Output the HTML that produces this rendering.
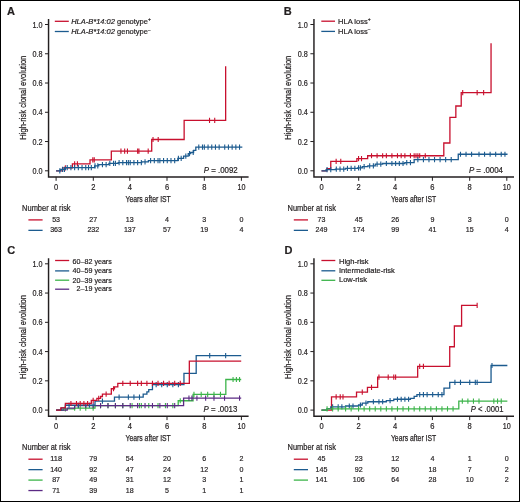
<!DOCTYPE html>
<html><head><meta charset="utf-8"><style>
html,body{margin:0;padding:0;background:#fff;}
body{width:520px;height:502px;overflow:hidden;}
svg{display:block;will-change:transform;font-family:"Liberation Sans",sans-serif;}
text{fill:#231f20;stroke:#231f20;stroke-width:0.2px;}
</style></head><body>
<svg width="520" height="502" viewBox="0 0 520 502">
<rect x="0" y="0" width="520" height="502" fill="#fff"/>
<rect x="0.5" y="0.5" width="519" height="501" fill="none" stroke="#000" stroke-width="1"/>
<g transform="translate(0 0)">
<path d="M48.55 19V176.9H248.6" fill="none" stroke="#231f20" stroke-width="1.45"/>
<path d="M45 170.8H48.55M45 141.54H48.55M45 112.28H48.55M45 83.02H48.55M45 53.76H48.55M45 24.5H48.55M56.1 176.9V180.8M93.3 176.9V180.8M129.8 176.9V180.8M167 176.9V180.8M204.3 176.9V180.8M241.4 176.9V180.8" fill="none" stroke="#231f20" stroke-width="1"/>
<text x="42.5" y="173.8" font-size="8.4" text-anchor="end" textLength="10.1" lengthAdjust="spacingAndGlyphs">0.0</text>
<text x="42.5" y="144.54" font-size="8.4" text-anchor="end" textLength="10.1" lengthAdjust="spacingAndGlyphs">0.2</text>
<text x="42.5" y="115.28" font-size="8.4" text-anchor="end" textLength="10.1" lengthAdjust="spacingAndGlyphs">0.4</text>
<text x="42.5" y="86.02" font-size="8.4" text-anchor="end" textLength="10.1" lengthAdjust="spacingAndGlyphs">0.6</text>
<text x="42.5" y="56.76" font-size="8.4" text-anchor="end" textLength="10.1" lengthAdjust="spacingAndGlyphs">0.8</text>
<text x="42.5" y="27.5" font-size="8.4" text-anchor="end" textLength="10.1" lengthAdjust="spacingAndGlyphs">1.0</text>
<text x="56.1" y="189.7" font-size="8.4" text-anchor="middle" textLength="4.2" lengthAdjust="spacingAndGlyphs">0</text>
<text x="93.3" y="189.7" font-size="8.4" text-anchor="middle" textLength="4.2" lengthAdjust="spacingAndGlyphs">2</text>
<text x="129.8" y="189.7" font-size="8.4" text-anchor="middle" textLength="4.2" lengthAdjust="spacingAndGlyphs">4</text>
<text x="167" y="189.7" font-size="8.4" text-anchor="middle" textLength="4.2" lengthAdjust="spacingAndGlyphs">6</text>
<text x="204.3" y="189.7" font-size="8.4" text-anchor="middle" textLength="4.2" lengthAdjust="spacingAndGlyphs">8</text>
<text x="241.4" y="189.7" font-size="8.4" text-anchor="middle" textLength="8" lengthAdjust="spacingAndGlyphs">10</text>
<text transform="translate(25.9 97.7) rotate(-90)" font-size="9.5" style="stroke-width:0.25px" text-anchor="middle" textLength="84" lengthAdjust="spacingAndGlyphs">High-risk clonal evolution</text>
<text x="148.15" y="201.9" font-size="9.6" text-anchor="middle" textLength="45.3" lengthAdjust="spacingAndGlyphs" style="stroke-width:0.25px">Years after IST</text>
<path d="M54.8 21.3H68.8" stroke="#c8102e" stroke-width="1.3"/>
<text x="71.2" y="24.2" font-size="7.5"><tspan font-style="italic">HLA-B*14:02</tspan> genotype<tspan font-size="5" dy="-2.9">+</tspan></text>
<path d="M54.8 31.5H68.8" stroke="#1c5b8f" stroke-width="1.3"/>
<text x="71.2" y="34.4" font-size="7.5"><tspan font-style="italic">HLA-B*14:02</tspan> genotype<tspan font-size="5" dy="-2.9">−</tspan></text>
<path d="M56.1 170.8H62.59V167.87H72.41V163.78H90.01V159.97H111.32V151.2H151.71V139.49H184.14V120.47H225.65V66.2H225.65" fill="none" stroke="#c8102e" stroke-width="1.3" stroke-linejoin="miter" stroke-linecap="butt"/>
<path d="M65.37 165.27v5.2M74.63 161.18v5.2M77.41 161.18v5.2M92.79 157.37v5.2M94.27 157.37v5.2M120.96 148.6v5.2M124.66 148.6v5.2M127.44 148.6v5.2M137.63 148.6v5.2M138.93 148.6v5.2M148.19 148.6v5.2M153.01 136.89v5.2M158.2 136.89v5.2M209.53 117.87v5.2M214.72 117.87v5.2" fill="none" stroke="#c8102e" stroke-width="1.1"/>
<path d="M56.1 170.8H60.73V169.34H65.37V167.58H94.64V165.97H98.72V164.66H108.91V163.34H118.18V162.61H141.71V161.88H148.38V160.56H177.84V158.36H183.59V156.17H188.22V153.68H190.63V152.51H193.59V150.32H195.82V147.1H242.33" fill="none" stroke="#1c5b8f" stroke-width="1.3" stroke-linejoin="miter" stroke-linecap="butt"/>
<path d="M59.81 168.2v5.2M62.59 166.74v5.2M64.44 166.74v5.2M67.22 164.98v5.2M70.92 164.98v5.2M74.63 164.98v5.2M78.34 164.98v5.2M82.04 164.98v5.2M85.75 164.98v5.2M88.53 164.98v5.2M91.31 164.98v5.2M95.01 163.37v5.2M97.79 163.37v5.2M102.43 162.06v5.2M106.13 162.06v5.2M109.84 160.74v5.2M113.54 160.74v5.2M115.4 160.74v5.2M119.1 160.01v5.2M122.81 160.01v5.2M126.51 160.01v5.2M128.37 160.01v5.2M130.22 160.01v5.2M133.93 160.01v5.2M137.63 160.01v5.2M141.34 160.01v5.2M145.04 159.28v5.2M150.6 157.96v5.2M154.31 157.96v5.2M158.02 157.96v5.2M159.87 157.96v5.2M163.57 157.96v5.2M167.28 157.96v5.2M170.99 157.96v5.2M174.69 157.96v5.2M178.4 155.76v5.2M181.18 155.76v5.2M185.81 153.57v5.2M189.52 151.08v5.2M193.22 149.91v5.2M198.78 144.5v5.2M202.49 144.5v5.2M204.34 144.5v5.2M208.05 144.5v5.2M211.75 144.5v5.2M215.46 144.5v5.2M219.16 144.5v5.2M224.72 144.5v5.2M228.43 144.5v5.2M232.14 144.5v5.2M235.84 144.5v5.2M239.55 144.5v5.2" fill="none" stroke="#1c5b8f" stroke-width="1.1"/>
<text x="203.7" y="172.6" font-size="8.5" textLength="34" lengthAdjust="spacingAndGlyphs"><tspan font-style="italic">P</tspan> = .0092</text>
<text x="22.1" y="210.9" font-size="8.2" textLength="48.5" lengthAdjust="spacingAndGlyphs">Number at risk</text>
<path d="M28.4 219.9H42.6" stroke="#c8102e" stroke-width="1.3"/>
<text x="56.1" y="222" font-size="8.1" text-anchor="middle" textLength="7.9" lengthAdjust="spacingAndGlyphs">53</text>
<text x="93.3" y="222" font-size="8.1" text-anchor="middle" textLength="7.9" lengthAdjust="spacingAndGlyphs">27</text>
<text x="129.8" y="222" font-size="8.1" text-anchor="middle" textLength="7.9" lengthAdjust="spacingAndGlyphs">13</text>
<text x="167" y="222" font-size="8.1" text-anchor="middle" textLength="3.95" lengthAdjust="spacingAndGlyphs">4</text>
<text x="204.3" y="222" font-size="8.1" text-anchor="middle" textLength="3.95" lengthAdjust="spacingAndGlyphs">3</text>
<text x="241.4" y="222" font-size="8.1" text-anchor="middle" textLength="3.95" lengthAdjust="spacingAndGlyphs">0</text>
<path d="M28.4 230.35H42.6" stroke="#1c5b8f" stroke-width="1.3"/>
<text x="56.1" y="232.45" font-size="8.1" text-anchor="middle" textLength="11.85" lengthAdjust="spacingAndGlyphs">363</text>
<text x="93.3" y="232.45" font-size="8.1" text-anchor="middle" textLength="11.85" lengthAdjust="spacingAndGlyphs">232</text>
<text x="129.8" y="232.45" font-size="8.1" text-anchor="middle" textLength="11.85" lengthAdjust="spacingAndGlyphs">137</text>
<text x="167" y="232.45" font-size="8.1" text-anchor="middle" textLength="7.9" lengthAdjust="spacingAndGlyphs">57</text>
<text x="204.3" y="232.45" font-size="8.1" text-anchor="middle" textLength="7.9" lengthAdjust="spacingAndGlyphs">19</text>
<text x="241.4" y="232.45" font-size="8.1" text-anchor="middle" textLength="3.95" lengthAdjust="spacingAndGlyphs">4</text>
</g>
<g transform="translate(265.4 0)">
<path d="M48.55 19V176.9H248.6" fill="none" stroke="#231f20" stroke-width="1.45"/>
<path d="M45 170.8H48.55M45 141.54H48.55M45 112.28H48.55M45 83.02H48.55M45 53.76H48.55M45 24.5H48.55M56.1 176.9V180.8M93.3 176.9V180.8M129.8 176.9V180.8M167 176.9V180.8M204.3 176.9V180.8M241.4 176.9V180.8" fill="none" stroke="#231f20" stroke-width="1"/>
<text x="42.5" y="173.8" font-size="8.4" text-anchor="end" textLength="10.1" lengthAdjust="spacingAndGlyphs">0.0</text>
<text x="42.5" y="144.54" font-size="8.4" text-anchor="end" textLength="10.1" lengthAdjust="spacingAndGlyphs">0.2</text>
<text x="42.5" y="115.28" font-size="8.4" text-anchor="end" textLength="10.1" lengthAdjust="spacingAndGlyphs">0.4</text>
<text x="42.5" y="86.02" font-size="8.4" text-anchor="end" textLength="10.1" lengthAdjust="spacingAndGlyphs">0.6</text>
<text x="42.5" y="56.76" font-size="8.4" text-anchor="end" textLength="10.1" lengthAdjust="spacingAndGlyphs">0.8</text>
<text x="42.5" y="27.5" font-size="8.4" text-anchor="end" textLength="10.1" lengthAdjust="spacingAndGlyphs">1.0</text>
<text x="56.1" y="189.7" font-size="8.4" text-anchor="middle" textLength="4.2" lengthAdjust="spacingAndGlyphs">0</text>
<text x="93.3" y="189.7" font-size="8.4" text-anchor="middle" textLength="4.2" lengthAdjust="spacingAndGlyphs">2</text>
<text x="129.8" y="189.7" font-size="8.4" text-anchor="middle" textLength="4.2" lengthAdjust="spacingAndGlyphs">4</text>
<text x="167" y="189.7" font-size="8.4" text-anchor="middle" textLength="4.2" lengthAdjust="spacingAndGlyphs">6</text>
<text x="204.3" y="189.7" font-size="8.4" text-anchor="middle" textLength="4.2" lengthAdjust="spacingAndGlyphs">8</text>
<text x="241.4" y="189.7" font-size="8.4" text-anchor="middle" textLength="8" lengthAdjust="spacingAndGlyphs">10</text>
<text transform="translate(25.9 97.7) rotate(-90)" font-size="9.5" style="stroke-width:0.25px" text-anchor="middle" textLength="84" lengthAdjust="spacingAndGlyphs">High-risk clonal evolution</text>
<text x="148.15" y="201.9" font-size="9.6" text-anchor="middle" textLength="45.3" lengthAdjust="spacingAndGlyphs" style="stroke-width:0.25px">Years after IST</text>
<path d="M55.9 21.2H69.6" stroke="#c8102e" stroke-width="1.3"/>
<text x="72.7" y="24" font-size="7.5">HLA loss<tspan font-size="5" dy="-2.9">+</tspan></text>
<path d="M55.9 31.4H69.6" stroke="#1c5b8f" stroke-width="1.3"/>
<text x="72.7" y="33.7" font-size="7.5">HLA loss<tspan font-size="5" dy="-2.9">−</tspan></text>
<path d="M56.1 170.8H61.47V168.61H65.37V161.29H91.49V158.66H102.24V155.73H178.4V143H184.51V117.4H190.44V105.99H195.82V92.68H225.65V43.37H225.65" fill="none" stroke="#c8102e" stroke-width="1.3" stroke-linejoin="miter" stroke-linecap="butt"/>
<path d="M70.74 158.69v5.2M75.37 158.69v5.2M93.16 156.06v5.2M96.12 156.06v5.2M106.13 153.13v5.2M111.69 153.13v5.2M117.25 153.13v5.2M120.96 153.13v5.2M126.51 153.13v5.2M132.07 153.13v5.2M135.78 153.13v5.2M139.49 153.13v5.2M145.04 153.13v5.2M148.75 153.13v5.2M150.6 153.13v5.2M152.46 153.13v5.2M154.31 153.13v5.2M159.87 153.13v5.2M197.3 90.08v5.2M211.75 90.08v5.2M218.24 90.08v5.2" fill="none" stroke="#c8102e" stroke-width="1.1"/>
<path d="M56.1 170.8H60.73V169.63H70V169.04H80.19V168.46H92.23V167.87H96.87V166.7H102.43V165.97H109.84V164.22H117.25V163.49H139.49V162.61H148.75V159.68H192.85V154.27H242.14" fill="none" stroke="#1c5b8f" stroke-width="1.3" stroke-linejoin="miter" stroke-linecap="butt"/>
<path d="M61.66 167.03v5.2M65.37 167.03v5.2M70.92 166.44v5.2M74.63 166.44v5.2M78.34 166.44v5.2M82.04 165.86v5.2M85.75 165.86v5.2M89.45 165.86v5.2M93.16 165.27v5.2M95.01 165.27v5.2M98.72 164.1v5.2M104.28 163.37v5.2M107.98 163.37v5.2M111.69 161.62v5.2M115.4 161.62v5.2M120.96 160.89v5.2M126.51 160.89v5.2M130.22 160.89v5.2M133.93 160.89v5.2M137.63 160.89v5.2M141.34 160.01v5.2M145.04 160.01v5.2M152.46 157.08v5.2M158.02 157.08v5.2M163.57 157.08v5.2M169.13 157.08v5.2M174.69 157.08v5.2M180.25 157.08v5.2M185.81 157.08v5.2M195.08 151.67v5.2M200.63 151.67v5.2M206.19 151.67v5.2M213.6 151.67v5.2M219.16 151.67v5.2M224.72 151.67v5.2M230.28 151.67v5.2M235.84 151.67v5.2M239.55 151.67v5.2" fill="none" stroke="#1c5b8f" stroke-width="1.1"/>
<text x="203.5" y="172.6" font-size="8.5" textLength="34.1" lengthAdjust="spacingAndGlyphs"><tspan font-style="italic">P</tspan> = .0004</text>
<text x="22.1" y="210.9" font-size="8.2" textLength="48.5" lengthAdjust="spacingAndGlyphs">Number at risk</text>
<path d="M28.4 219.9H42.6" stroke="#c8102e" stroke-width="1.3"/>
<text x="56.1" y="222" font-size="8.1" text-anchor="middle" textLength="7.9" lengthAdjust="spacingAndGlyphs">73</text>
<text x="93.3" y="222" font-size="8.1" text-anchor="middle" textLength="7.9" lengthAdjust="spacingAndGlyphs">45</text>
<text x="129.8" y="222" font-size="8.1" text-anchor="middle" textLength="7.9" lengthAdjust="spacingAndGlyphs">26</text>
<text x="167" y="222" font-size="8.1" text-anchor="middle" textLength="3.95" lengthAdjust="spacingAndGlyphs">9</text>
<text x="204.3" y="222" font-size="8.1" text-anchor="middle" textLength="3.95" lengthAdjust="spacingAndGlyphs">3</text>
<text x="241.4" y="222" font-size="8.1" text-anchor="middle" textLength="3.95" lengthAdjust="spacingAndGlyphs">0</text>
<path d="M28.4 230.35H42.6" stroke="#1c5b8f" stroke-width="1.3"/>
<text x="56.1" y="232.45" font-size="8.1" text-anchor="middle" textLength="11.85" lengthAdjust="spacingAndGlyphs">249</text>
<text x="93.3" y="232.45" font-size="8.1" text-anchor="middle" textLength="11.85" lengthAdjust="spacingAndGlyphs">174</text>
<text x="129.8" y="232.45" font-size="8.1" text-anchor="middle" textLength="7.9" lengthAdjust="spacingAndGlyphs">99</text>
<text x="167" y="232.45" font-size="8.1" text-anchor="middle" textLength="7.9" lengthAdjust="spacingAndGlyphs">41</text>
<text x="204.3" y="232.45" font-size="8.1" text-anchor="middle" textLength="7.9" lengthAdjust="spacingAndGlyphs">15</text>
<text x="241.4" y="232.45" font-size="8.1" text-anchor="middle" textLength="3.95" lengthAdjust="spacingAndGlyphs">4</text>
</g>
<g transform="translate(0 239.3)">
<path d="M48.55 19V176.9H248.6" fill="none" stroke="#231f20" stroke-width="1.45"/>
<path d="M45 170.8H48.55M45 141.54H48.55M45 112.28H48.55M45 83.02H48.55M45 53.76H48.55M45 24.5H48.55M56.1 176.9V180.8M93.3 176.9V180.8M129.8 176.9V180.8M167 176.9V180.8M204.3 176.9V180.8M241.4 176.9V180.8" fill="none" stroke="#231f20" stroke-width="1"/>
<text x="42.5" y="173.8" font-size="8.4" text-anchor="end" textLength="10.1" lengthAdjust="spacingAndGlyphs">0.0</text>
<text x="42.5" y="144.54" font-size="8.4" text-anchor="end" textLength="10.1" lengthAdjust="spacingAndGlyphs">0.2</text>
<text x="42.5" y="115.28" font-size="8.4" text-anchor="end" textLength="10.1" lengthAdjust="spacingAndGlyphs">0.4</text>
<text x="42.5" y="86.02" font-size="8.4" text-anchor="end" textLength="10.1" lengthAdjust="spacingAndGlyphs">0.6</text>
<text x="42.5" y="56.76" font-size="8.4" text-anchor="end" textLength="10.1" lengthAdjust="spacingAndGlyphs">0.8</text>
<text x="42.5" y="27.5" font-size="8.4" text-anchor="end" textLength="10.1" lengthAdjust="spacingAndGlyphs">1.0</text>
<text x="56.1" y="189.7" font-size="8.4" text-anchor="middle" textLength="4.2" lengthAdjust="spacingAndGlyphs">0</text>
<text x="93.3" y="189.7" font-size="8.4" text-anchor="middle" textLength="4.2" lengthAdjust="spacingAndGlyphs">2</text>
<text x="129.8" y="189.7" font-size="8.4" text-anchor="middle" textLength="4.2" lengthAdjust="spacingAndGlyphs">4</text>
<text x="167" y="189.7" font-size="8.4" text-anchor="middle" textLength="4.2" lengthAdjust="spacingAndGlyphs">6</text>
<text x="204.3" y="189.7" font-size="8.4" text-anchor="middle" textLength="4.2" lengthAdjust="spacingAndGlyphs">8</text>
<text x="241.4" y="189.7" font-size="8.4" text-anchor="middle" textLength="8" lengthAdjust="spacingAndGlyphs">10</text>
<text transform="translate(25.9 97.7) rotate(-90)" font-size="9.5" style="stroke-width:0.25px" text-anchor="middle" textLength="84" lengthAdjust="spacingAndGlyphs">High-risk clonal evolution</text>
<text x="148.15" y="201.9" font-size="9.6" text-anchor="middle" textLength="45.3" lengthAdjust="spacingAndGlyphs" style="stroke-width:0.25px">Years after IST</text>
<path d="M55.1 21.2H69.2" stroke="#c8102e" stroke-width="1.3"/>
<text x="72.6" y="24.8" font-size="7.5" textLength="39.2" lengthAdjust="spacingAndGlyphs">60–82 years</text>
<path d="M55.1 31.6H69.2" stroke="#1c5b8f" stroke-width="1.3"/>
<text x="72.6" y="34.1" font-size="7.5" textLength="39.2" lengthAdjust="spacingAndGlyphs">40–59 years</text>
<path d="M55.1 40.9H69.2" stroke="#3cb44a" stroke-width="1.3"/>
<text x="72.6" y="43.3" font-size="7.5" textLength="39.2" lengthAdjust="spacingAndGlyphs">20–39 years</text>
<path d="M55.1 49.9H69.2" stroke="#5b2a84" stroke-width="1.3"/>
<text x="72.6" y="52.2" font-size="7.5" textLength="39.2" lengthAdjust="spacingAndGlyphs"> 2–19 years</text>
<path d="M56.1 170.8H63.51V169.63H74.63V168.75H95.01V166.41H178.21V161.44H193.04V155.15H225.83V140.22H241.21" fill="none" stroke="#3cb44a" stroke-width="1.3" stroke-linejoin="miter" stroke-linecap="butt"/>
<path d="M65.37 167.03v5.2M74.63 166.15v5.2M80.19 166.15v5.2M85.75 166.15v5.2M93.16 166.15v5.2M100.57 163.81v5.2M107.98 163.81v5.2M115.4 163.81v5.2M122.81 163.81v5.2M132.07 163.81v5.2M139.49 163.81v5.2M141.34 163.81v5.2M148.75 163.81v5.2M158.02 163.81v5.2M165.43 163.81v5.2M172.84 163.81v5.2M180.25 158.84v5.2M193.96 152.55v5.2M201.19 152.55v5.2M207.68 152.55v5.2M213.98 152.55v5.2M220.46 152.55v5.2M233.06 137.62v5.2M236.4 137.62v5.2M239.55 137.62v5.2" fill="none" stroke="#3cb44a" stroke-width="1.1"/>
<path d="M56.1 170.8H67.22V168.75H74.63V166.41H183.59V158.8H241.21" fill="none" stroke="#5b2a84" stroke-width="1.3" stroke-linejoin="miter" stroke-linecap="butt"/>
<path d="M78.34 163.81v5.2M85.75 163.81v5.2M93.16 163.81v5.2M100.57 163.81v5.2M107.98 163.81v5.2M115.4 163.81v5.2M122.81 163.81v5.2M130.22 163.81v5.2M137.63 163.81v5.2M145.04 163.81v5.2M152.46 163.81v5.2M159.87 163.81v5.2M167.28 163.81v5.2M174.69 163.81v5.2M188.96 156.2v5.2M191.92 156.2v5.2M196.93 156.2v5.2M205.64 156.2v5.2M213.98 156.2v5.2M224.54 156.2v5.2M239.55 156.2v5.2" fill="none" stroke="#5b2a84" stroke-width="1.1"/>
<path d="M56.1 170.8H61.66V168.61H65.37V165.97H95.01V161.73H114.47V157.78H143.19V154.85H146.9V152.51H148.75V150.32H152.46V145.34H183.96V134.08H196.19V116.38H241.21" fill="none" stroke="#1c5b8f" stroke-width="1.3" stroke-linejoin="miter" stroke-linecap="butt"/>
<path d="M69.07 163.37v5.2M78.34 163.37v5.2M89.45 163.37v5.2M102.43 159.13v5.2M119.1 155.18v5.2M128.37 155.18v5.2M133.93 155.18v5.2M139.49 155.18v5.2M156.16 142.74v5.2M161.72 142.74v5.2M167.28 142.74v5.2M172.84 142.74v5.2M178.4 142.74v5.2M209.71 113.78v5.2M225.65 113.78v5.2" fill="none" stroke="#1c5b8f" stroke-width="1.1"/>
<path d="M56.1 170.8H60.73V168.61H65.37V164.22H91.31V161.14H96.87V159.1H100.57V157.19H102.43V154.85H111.32V149.44H114.47V147.54H117.8V144.17H189.33V121.79H241.21" fill="none" stroke="#c8102e" stroke-width="1.3" stroke-linejoin="miter" stroke-linecap="butt"/>
<path d="M70.92 161.62v5.2M76.48 161.62v5.2M80.19 161.62v5.2M83.9 161.62v5.2M87.6 161.62v5.2M93.16 158.54v5.2M98.72 156.5v5.2M106.13 152.25v5.2M113.54 146.84v5.2M122.81 141.57v5.2M130.22 141.57v5.2M137.63 141.57v5.2M141.34 141.57v5.2M146.9 141.57v5.2M152.46 141.57v5.2M158.02 141.57v5.2M163.57 141.57v5.2M169.13 141.57v5.2M174.69 141.57v5.2M180.25 141.57v5.2" fill="none" stroke="#c8102e" stroke-width="1.1"/>
<text x="203.5" y="172.6" font-size="8.5" textLength="33.8" lengthAdjust="spacingAndGlyphs"><tspan font-style="italic">P</tspan> = .0013</text>
<text x="22.1" y="210.9" font-size="8.2" textLength="48.5" lengthAdjust="spacingAndGlyphs">Number at risk</text>
<path d="M28.4 219.9H42.6" stroke="#c8102e" stroke-width="1.3"/>
<text x="56.1" y="222" font-size="8.1" text-anchor="middle" textLength="11.85" lengthAdjust="spacingAndGlyphs">118</text>
<text x="93.3" y="222" font-size="8.1" text-anchor="middle" textLength="7.9" lengthAdjust="spacingAndGlyphs">79</text>
<text x="129.8" y="222" font-size="8.1" text-anchor="middle" textLength="7.9" lengthAdjust="spacingAndGlyphs">54</text>
<text x="167" y="222" font-size="8.1" text-anchor="middle" textLength="7.9" lengthAdjust="spacingAndGlyphs">20</text>
<text x="204.3" y="222" font-size="8.1" text-anchor="middle" textLength="3.95" lengthAdjust="spacingAndGlyphs">6</text>
<text x="241.4" y="222" font-size="8.1" text-anchor="middle" textLength="3.95" lengthAdjust="spacingAndGlyphs">2</text>
<path d="M28.4 230.35H42.6" stroke="#1c5b8f" stroke-width="1.3"/>
<text x="56.1" y="232.45" font-size="8.1" text-anchor="middle" textLength="11.85" lengthAdjust="spacingAndGlyphs">140</text>
<text x="93.3" y="232.45" font-size="8.1" text-anchor="middle" textLength="7.9" lengthAdjust="spacingAndGlyphs">92</text>
<text x="129.8" y="232.45" font-size="8.1" text-anchor="middle" textLength="7.9" lengthAdjust="spacingAndGlyphs">47</text>
<text x="167" y="232.45" font-size="8.1" text-anchor="middle" textLength="7.9" lengthAdjust="spacingAndGlyphs">24</text>
<text x="204.3" y="232.45" font-size="8.1" text-anchor="middle" textLength="7.9" lengthAdjust="spacingAndGlyphs">12</text>
<text x="241.4" y="232.45" font-size="8.1" text-anchor="middle" textLength="3.95" lengthAdjust="spacingAndGlyphs">0</text>
<path d="M28.4 240.8H42.6" stroke="#3cb44a" stroke-width="1.3"/>
<text x="56.1" y="242.9" font-size="8.1" text-anchor="middle" textLength="7.9" lengthAdjust="spacingAndGlyphs">87</text>
<text x="93.3" y="242.9" font-size="8.1" text-anchor="middle" textLength="7.9" lengthAdjust="spacingAndGlyphs">49</text>
<text x="129.8" y="242.9" font-size="8.1" text-anchor="middle" textLength="7.9" lengthAdjust="spacingAndGlyphs">31</text>
<text x="167" y="242.9" font-size="8.1" text-anchor="middle" textLength="7.9" lengthAdjust="spacingAndGlyphs">12</text>
<text x="204.3" y="242.9" font-size="8.1" text-anchor="middle" textLength="3.95" lengthAdjust="spacingAndGlyphs">3</text>
<text x="241.4" y="242.9" font-size="8.1" text-anchor="middle" textLength="3.95" lengthAdjust="spacingAndGlyphs">1</text>
<path d="M28.4 251.25H42.6" stroke="#5b2a84" stroke-width="1.3"/>
<text x="56.1" y="253.35" font-size="8.1" text-anchor="middle" textLength="7.9" lengthAdjust="spacingAndGlyphs">71</text>
<text x="93.3" y="253.35" font-size="8.1" text-anchor="middle" textLength="7.9" lengthAdjust="spacingAndGlyphs">39</text>
<text x="129.8" y="253.35" font-size="8.1" text-anchor="middle" textLength="7.9" lengthAdjust="spacingAndGlyphs">18</text>
<text x="167" y="253.35" font-size="8.1" text-anchor="middle" textLength="3.95" lengthAdjust="spacingAndGlyphs">5</text>
<text x="204.3" y="253.35" font-size="8.1" text-anchor="middle" textLength="3.95" lengthAdjust="spacingAndGlyphs">1</text>
<text x="241.4" y="253.35" font-size="8.1" text-anchor="middle" textLength="3.95" lengthAdjust="spacingAndGlyphs">1</text>
</g>
<g transform="translate(265.4 239.3)">
<path d="M48.55 19V176.9H248.6" fill="none" stroke="#231f20" stroke-width="1.45"/>
<path d="M45 170.8H48.55M45 141.54H48.55M45 112.28H48.55M45 83.02H48.55M45 53.76H48.55M45 24.5H48.55M56.1 176.9V180.8M93.3 176.9V180.8M129.8 176.9V180.8M167 176.9V180.8M204.3 176.9V180.8M241.4 176.9V180.8" fill="none" stroke="#231f20" stroke-width="1"/>
<text x="42.5" y="173.8" font-size="8.4" text-anchor="end" textLength="10.1" lengthAdjust="spacingAndGlyphs">0.0</text>
<text x="42.5" y="144.54" font-size="8.4" text-anchor="end" textLength="10.1" lengthAdjust="spacingAndGlyphs">0.2</text>
<text x="42.5" y="115.28" font-size="8.4" text-anchor="end" textLength="10.1" lengthAdjust="spacingAndGlyphs">0.4</text>
<text x="42.5" y="86.02" font-size="8.4" text-anchor="end" textLength="10.1" lengthAdjust="spacingAndGlyphs">0.6</text>
<text x="42.5" y="56.76" font-size="8.4" text-anchor="end" textLength="10.1" lengthAdjust="spacingAndGlyphs">0.8</text>
<text x="42.5" y="27.5" font-size="8.4" text-anchor="end" textLength="10.1" lengthAdjust="spacingAndGlyphs">1.0</text>
<text x="56.1" y="189.7" font-size="8.4" text-anchor="middle" textLength="4.2" lengthAdjust="spacingAndGlyphs">0</text>
<text x="93.3" y="189.7" font-size="8.4" text-anchor="middle" textLength="4.2" lengthAdjust="spacingAndGlyphs">2</text>
<text x="129.8" y="189.7" font-size="8.4" text-anchor="middle" textLength="4.2" lengthAdjust="spacingAndGlyphs">4</text>
<text x="167" y="189.7" font-size="8.4" text-anchor="middle" textLength="4.2" lengthAdjust="spacingAndGlyphs">6</text>
<text x="204.3" y="189.7" font-size="8.4" text-anchor="middle" textLength="4.2" lengthAdjust="spacingAndGlyphs">8</text>
<text x="241.4" y="189.7" font-size="8.4" text-anchor="middle" textLength="8" lengthAdjust="spacingAndGlyphs">10</text>
<text transform="translate(25.9 97.7) rotate(-90)" font-size="9.5" style="stroke-width:0.25px" text-anchor="middle" textLength="84" lengthAdjust="spacingAndGlyphs">High-risk clonal evolution</text>
<text x="148.15" y="201.9" font-size="9.6" text-anchor="middle" textLength="45.3" lengthAdjust="spacingAndGlyphs" style="stroke-width:0.25px">Years after IST</text>
<path d="M56 21.2H69.9" stroke="#c8102e" stroke-width="1.3"/>
<text x="73.6" y="24.7" font-size="7.5">High-risk</text>
<path d="M56 31.5H69.9" stroke="#1c5b8f" stroke-width="1.3"/>
<text x="73.6" y="33.9" font-size="7.5">Intermediate-risk</text>
<path d="M56 41H69.9" stroke="#3cb44a" stroke-width="1.3"/>
<text x="73.6" y="43" font-size="7.5">Low-risk</text>
<path d="M56.1 170.8H66.11V157.49H91.12V152.81H102.05V147.98H112.25V137.88H152.27V127.06H184.33V107.45H188.96V86.68H196.19V66.05H211.75" fill="none" stroke="#c8102e" stroke-width="1.3" stroke-linejoin="miter" stroke-linecap="butt"/>
<path d="M70.74 154.89v5.2M74.82 154.89v5.2M77.59 154.89v5.2M96.87 150.21v5.2M106.13 145.38v5.2M113.54 135.28v5.2M122.81 135.28v5.2M128.37 135.28v5.2M130.22 135.28v5.2M154.31 124.46v5.2M158.02 124.46v5.2M211.75 63.45v5.2" fill="none" stroke="#c8102e" stroke-width="1.1"/>
<path d="M56.1 170.8H61.66V169.34H65.37V167.58H80.19V166.7H93.16V165.68H96.87V163.78H102.43V162.46H120.96V161.29H128.37V159.97H145.04V159.1H148.75V157.05H151.53V155.29H178.58V148.86H184.33V143H225.65V126.18H241.96" fill="none" stroke="#1c5b8f" stroke-width="1.3" stroke-linejoin="miter" stroke-linecap="butt"/>
<path d="M67.22 164.98v5.2M72.78 164.98v5.2M76.48 164.98v5.2M83.9 164.1v5.2M87.6 164.1v5.2M95.01 163.08v5.2M100.57 161.18v5.2M107.98 159.86v5.2M113.54 159.86v5.2M117.25 159.86v5.2M124.66 158.69v5.2M132.07 157.37v5.2M135.78 157.37v5.2M139.49 157.37v5.2M143.19 157.37v5.2M154.31 152.69v5.2M158.02 152.69v5.2M161.72 152.69v5.2M167.28 152.69v5.2M172.84 152.69v5.2M176.55 152.69v5.2M189.52 140.4v5.2M195.08 140.4v5.2M204.34 140.4v5.2M209.9 140.4v5.2M211.75 140.4v5.2M226.58 123.58v5.2" fill="none" stroke="#1c5b8f" stroke-width="1.1"/>
<path d="M56.1 170.8H61.66V169.48H193.41V161.73H241.96" fill="none" stroke="#3cb44a" stroke-width="1.3" stroke-linejoin="miter" stroke-linecap="butt"/>
<path d="M61.66 166.88v5.2M67.22 166.88v5.2M72.78 166.88v5.2M80.19 166.88v5.2M85.75 166.88v5.2M93.16 166.88v5.2M98.72 166.88v5.2M104.28 166.88v5.2M109.84 166.88v5.2M115.4 166.88v5.2M120.96 166.88v5.2M126.51 166.88v5.2M132.07 166.88v5.2M137.63 166.88v5.2M143.19 166.88v5.2M148.75 166.88v5.2M154.31 166.88v5.2M159.87 166.88v5.2M165.43 166.88v5.2M170.99 166.88v5.2M176.55 166.88v5.2M182.1 166.88v5.2M187.66 166.88v5.2M196.93 159.13v5.2M202.49 159.13v5.2M208.05 159.13v5.2M213.6 159.13v5.2M228.43 159.13v5.2M232.14 159.13v5.2M235.84 159.13v5.2" fill="none" stroke="#3cb44a" stroke-width="1.1"/>
<text x="205.3" y="172.5" font-size="8.5" textLength="32.8" lengthAdjust="spacingAndGlyphs"><tspan font-style="italic">P</tspan> &lt; .0001</text>
<text x="22.1" y="210.9" font-size="8.2" textLength="48.5" lengthAdjust="spacingAndGlyphs">Number at risk</text>
<path d="M28.4 219.9H42.6" stroke="#c8102e" stroke-width="1.3"/>
<text x="56.1" y="222" font-size="8.1" text-anchor="middle" textLength="7.9" lengthAdjust="spacingAndGlyphs">45</text>
<text x="93.3" y="222" font-size="8.1" text-anchor="middle" textLength="7.9" lengthAdjust="spacingAndGlyphs">23</text>
<text x="129.8" y="222" font-size="8.1" text-anchor="middle" textLength="7.9" lengthAdjust="spacingAndGlyphs">12</text>
<text x="167" y="222" font-size="8.1" text-anchor="middle" textLength="3.95" lengthAdjust="spacingAndGlyphs">4</text>
<text x="204.3" y="222" font-size="8.1" text-anchor="middle" textLength="3.95" lengthAdjust="spacingAndGlyphs">1</text>
<text x="241.4" y="222" font-size="8.1" text-anchor="middle" textLength="3.95" lengthAdjust="spacingAndGlyphs">0</text>
<path d="M28.4 230.35H42.6" stroke="#1c5b8f" stroke-width="1.3"/>
<text x="56.1" y="232.45" font-size="8.1" text-anchor="middle" textLength="11.85" lengthAdjust="spacingAndGlyphs">145</text>
<text x="93.3" y="232.45" font-size="8.1" text-anchor="middle" textLength="7.9" lengthAdjust="spacingAndGlyphs">92</text>
<text x="129.8" y="232.45" font-size="8.1" text-anchor="middle" textLength="7.9" lengthAdjust="spacingAndGlyphs">50</text>
<text x="167" y="232.45" font-size="8.1" text-anchor="middle" textLength="7.9" lengthAdjust="spacingAndGlyphs">18</text>
<text x="204.3" y="232.45" font-size="8.1" text-anchor="middle" textLength="3.95" lengthAdjust="spacingAndGlyphs">7</text>
<text x="241.4" y="232.45" font-size="8.1" text-anchor="middle" textLength="3.95" lengthAdjust="spacingAndGlyphs">2</text>
<path d="M28.4 240.8H42.6" stroke="#3cb44a" stroke-width="1.3"/>
<text x="56.1" y="242.9" font-size="8.1" text-anchor="middle" textLength="11.85" lengthAdjust="spacingAndGlyphs">141</text>
<text x="93.3" y="242.9" font-size="8.1" text-anchor="middle" textLength="11.85" lengthAdjust="spacingAndGlyphs">106</text>
<text x="129.8" y="242.9" font-size="8.1" text-anchor="middle" textLength="7.9" lengthAdjust="spacingAndGlyphs">64</text>
<text x="167" y="242.9" font-size="8.1" text-anchor="middle" textLength="7.9" lengthAdjust="spacingAndGlyphs">28</text>
<text x="204.3" y="242.9" font-size="8.1" text-anchor="middle" textLength="7.9" lengthAdjust="spacingAndGlyphs">10</text>
<text x="241.4" y="242.9" font-size="8.1" text-anchor="middle" textLength="3.95" lengthAdjust="spacingAndGlyphs">2</text>
</g>
<text x="7" y="15" font-size="11" font-weight="bold">A</text>
<text x="283.8" y="15.1" font-size="11" font-weight="bold">B</text>
<text x="7.2" y="254.3" font-size="11" font-weight="bold">C</text>
<text x="284.6" y="254.3" font-size="11" font-weight="bold">D</text>
</svg>
</body></html>
